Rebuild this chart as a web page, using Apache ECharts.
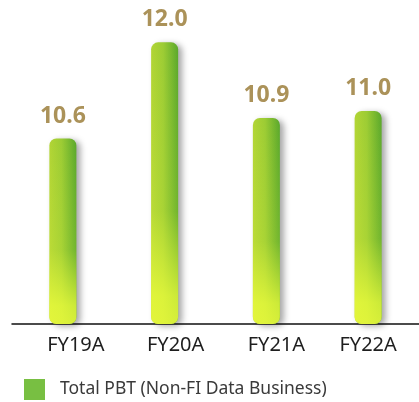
<!DOCTYPE html>
<html><head><meta charset="utf-8">
<script src="https://cdn.jsdelivr.net/npm/echarts@6/dist/echarts.min.js"></script>
<style>html,body{margin:0;padding:0;background:#fff}#c{width:419px;height:402px}</style>
</head><body><div id="c"></div>
<script>
var categories = ['FY19A', 'FY20A', 'FY21A', 'FY22A'];
var pbtValues = [10.6, 12.0, 10.9, 11.0];
var seriesName = 'Total PBT (Non-FI Data Business)';

var labelShift = [13, 11, 10, 0];
var chart = echarts.init(document.getElementById('c'));
var axisData = categories.map(function (c, i) {
  return { value: c, textStyle: { padding: [0, 0, 0, labelShift[i] * 2] } };
});
chart.setOption({
  animation: false,
  grid: { left: 12, right: -5, top: 8, bottom: 78 },
  legend: {
    left: 24, top: 379, padding: 0,
    itemWidth: 21, itemHeight: 21, icon: 'rect',
    data: [{ name: seriesName, itemStyle: { color: '#78bf42' } }],
    textStyle: { fontFamily: 'Noto Sans', fontSize: 17.5, color: '#3a3a3a', padding: [0, 0, 0, 10] }
  },
  xAxis: {
    type: 'category', data: axisData,
    axisTick: { show: false },
    axisLine: { lineStyle: { color: '#111', width: 1.5 } },
    axisLabel: { fontFamily: 'Noto Sans', fontSize: 20, color: '#1e1e1e', margin: 11 }
  },
  yAxis: {
    type: 'value', min: 7.9, max: 12.5,
    show: false, splitLine: { show: false }
  },
  series: [
    {
      name: seriesName, type: 'bar', data: pbtValues, barWidth: 27,
      itemStyle: {
        borderRadius: 7,
        color: new echarts.graphic.LinearGradient(0, 0, 1, 0, [
          { offset: 0, color: '#b2d535' },
          { offset: 0.45, color: '#9ccc34' },
          { offset: 1, color: '#5aa82c' }
        ]),
        shadowBlur: 6, shadowOffsetX: 4, shadowOffsetY: 2, shadowColor: 'rgba(0,0,0,0.35)'
      },
      label: {
        show: true, position: 'top', distance: 11,
        formatter: function (p) { return p.value.toFixed(1); },
        fontFamily: 'Noto Sans', fontWeight: 'bold', fontSize: 23, color: '#ab9259'
      }
    },
    {
      name: 'glow', type: 'bar', data: pbtValues, barWidth: 27, barGap: '-100%',
      silent: true,
      itemStyle: {
        borderRadius: 7,
        color: new echarts.graphic.LinearGradient(0, 0, 0, 1, [
          { offset: 0, color: 'rgba(240,255,60,0)' },
          { offset: 0.6, color: 'rgba(240,255,60,0.15)' },
          { offset: 0.9, color: 'rgba(240,255,60,0.75)' },
          { offset: 1, color: 'rgba(235,250,60,0.85)' }
        ])
      }
    }
  ]
});
</script></body></html>
